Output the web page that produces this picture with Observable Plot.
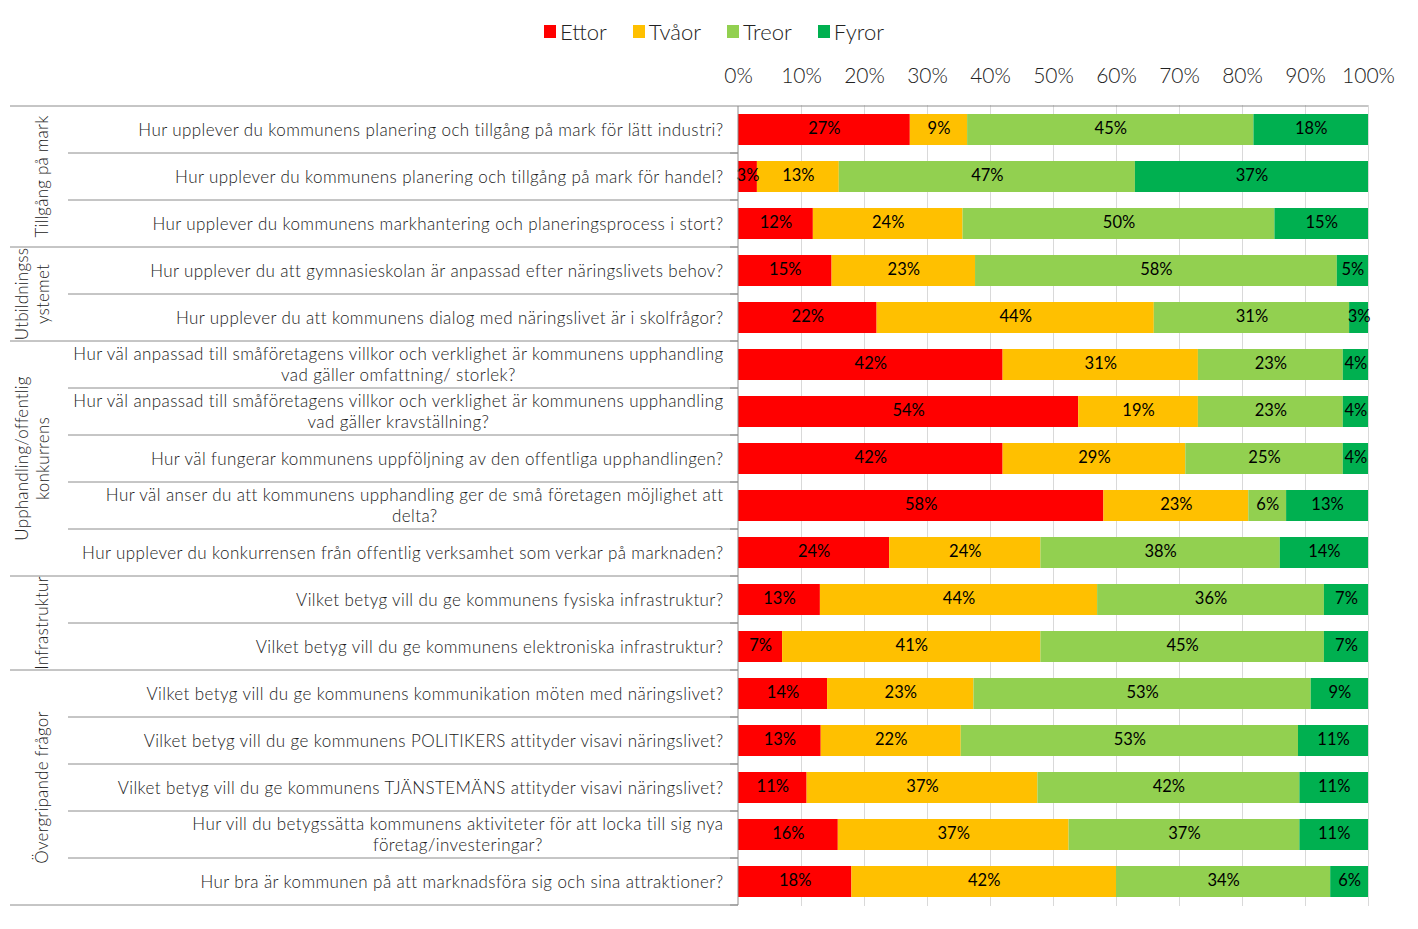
<!DOCTYPE html>
<html>
<head>
<meta charset="utf-8">
<script src="https://cdn.jsdelivr.net/npm/d3@7"></script>
<script src="https://cdn.jsdelivr.net/npm/@observablehq/plot@0.6"></script>
<style>
  html, body { margin: 0; padding: 0; background: #fff; }
  body { width: 1418px; height: 929px; overflow: hidden; font-family: Lato, "Open Sans", sans-serif; }
  #legend { height: 50px; display: flex; justify-content: center; align-items: center; gap: 26px; padding-left: 10px; box-sizing: border-box; padding-top: 12px; }
  #legend .item { display: flex; align-items: center; font-size: 22px; font-weight: 300; color: #222; }
  #legend .sw { width: 12px; height: 13px; margin-right: 4px; }
  .qlabel text { letter-spacing: 0.4px; }
</style>
</head>
<body>
<div id="legend"></div>
<div id="chart"></div>
<script>
const categories = ["Ettor", "Tvåor", "Treor", "Fyror"];
const colors = ["#FF0000", "#FFC000", "#92D050", "#00B050"];

const groups = [
  "Tillgång på mark",
  "Utbildningss\nystemet",
  "Upphandling/offentlig\nkonkurrens",
  "Infrastruktur",
  "Övergripande frågor"
];
const groupOfRow = [0, 0, 0, 1, 1, 2, 2, 2, 2, 2, 3, 3, 4, 4, 4, 4, 4];

const questions = [
  "Hur upplever du kommunens planering och tillgång på mark för lätt industri?",
  "Hur upplever du kommunens planering och tillgång på mark för handel?",
  "Hur upplever du kommunens markhantering och planeringsprocess i stort?",
  "Hur upplever du att gymnasieskolan är anpassad efter näringslivets behov?",
  "Hur upplever du att kommunens dialog med näringslivet är i skolfrågor?",
  "Hur väl anpassad till småföretagens villkor och verklighet är kommunens upphandling\nvad gäller omfattning/ storlek?",
  "Hur väl anpassad till småföretagens villkor och verklighet är kommunens upphandling\nvad gäller kravställning?",
  "Hur väl fungerar kommunens uppföljning av den offentliga upphandlingen?",
  "Hur väl anser du att kommunens upphandling ger de små företagen möjlighet att\ndelta?",
  "Hur upplever du konkurrensen från offentlig verksamhet som verkar på marknaden?",
  "Vilket betyg vill du ge kommunens fysiska infrastruktur?",
  "Vilket betyg vill du ge kommunens elektroniska infrastruktur?",
  "Vilket betyg vill du ge kommunens kommunikation möten med näringslivet?",
  "Vilket betyg vill du ge kommunens POLITIKERS attityder visavi näringslivet?",
  "Vilket betyg vill du ge kommunens TJÄNSTEMÄNS attityder visavi näringslivet?",
  "Hur vill du betygssätta kommunens aktiviteter för att locka till sig nya\nföretag/investeringar?",
  "Hur bra är kommunen på att marknadsföra sig och sina attraktioner?"
];

const ettor = [27, 3, 12, 15, 22, 42, 54, 42, 58, 24, 13, 7, 14, 13, 11, 16, 18];
const tvaor = [9, 13, 24, 23, 44, 31, 19, 29, 23, 24, 44, 41, 23, 22, 37, 37, 42];
const treor = [45, 47, 50, 58, 31, 23, 23, 25, 6, 38, 36, 45, 53, 53, 42, 37, 34];
const fyror = [18, 37, 15, 5, 3, 4, 4, 4, 13, 14, 7, 7, 9, 11, 11, 11, 6];

const xTicks = [0, 0.1, 0.2, 0.3, 0.4, 0.5, 0.6, 0.7, 0.8, 0.9, 1];

// Build tidy table
const series = [ettor, tvaor, treor, fyror];
const rows = [];
questions.forEach((q, i) => {
  categories.forEach((c, j) => {
    rows.push({question: q, category: c, value: series[j][i]});
  });
});

// Legend
const legend = document.getElementById("legend");
categories.forEach((c, j) => {
  const it = document.createElement("div");
  it.className = "item";
  const sw = document.createElement("span");
  sw.className = "sw";
  sw.style.background = colors[j];
  it.appendChild(sw);
  it.appendChild(document.createTextNode(c));
  legend.appendChild(it);
});

const FONT = "Lato, 'Open Sans', sans-serif";

function decor(index, scales, values, dims) {
  const y = scales.y, x = scales.x;
  const bw = typeof y.bandwidth === "function" ? y.bandwidth() : y.bandwidth;
  const step = typeof y.step === "function" ? y.step() : y.step;
  const gap = (step - bw) / 2;
  const top = q => y(q) - gap;
  const bot = q => y(q) + bw + gap;
  const x0 = dims.marginLeft;
  const xEnd = x(1);
  const leftEdge = 10, rowLineStart = 68;
  const g = d3.create("svg:g");
  const lc = "#8c8c8c";
  // top line
  g.append("line").attr("x1", leftEdge).attr("x2", xEnd)
    .attr("y1", top(questions[0])).attr("y2", top(questions[0]))
    .attr("stroke", lc);
  // row boundaries
  questions.forEach((q, i) => {
    const yb = bot(q);
    const isGroupEnd = i === questions.length - 1 || groupOfRow[i + 1] !== groupOfRow[i];
    g.append("line").attr("x1", isGroupEnd ? leftEdge : rowLineStart).attr("x2", x0)
      .attr("y1", yb).attr("y2", yb).attr("stroke", lc);
    g.append("line").attr("x1", x0 - 8).attr("x2", x0)
      .attr("y1", yb).attr("y2", yb).attr("stroke", lc);
  });
  // axis line
  g.append("line").attr("x1", x0).attr("x2", x0)
    .attr("y1", top(questions[0])).attr("y2", bot(questions[questions.length - 1]))
    .attr("stroke", lc);
  // group labels
  groups.forEach((name, gi) => {
    const qs = questions.filter((q, i) => groupOfRow[i] === gi);
    const cy = (top(qs[0]) + bot(qs[qs.length - 1])) / 2;
    const lines = name.split("\n");
    const cx = lines.length > 1 ? 33 : 42;
    const t = g.append("text")
      .attr("transform", `translate(${cx},${cy}) rotate(-90)`)
      .attr("text-anchor", "middle")
      .attr("font-family", FONT)
      .attr("font-size", 17)
      .attr("font-weight", 300)
      .attr("letter-spacing", "0.2px")
      .attr("fill", "#222");
    const lh = 21;
    lines.forEach((ln, k) => {
      t.append("tspan").attr("x", 0)
        .attr("y", (k - (lines.length - 1) / 2) * lh)
        .attr("dy", "0.35em")
        .text(ln);
    });
  });
  return g.node();
}

const plot = Plot.plot({
  width: 1418,
  height: 879,
  marginTop: 55,
  marginBottom: 23,
  marginLeft: 738,
  marginRight: 50,
  style: {fontFamily: FONT, background: "#fff"},
  x: {domain: [0, 1]},
  y: {domain: questions, paddingInner: 0.33, paddingOuter: 0.15, axis: null},
  color: {domain: categories, range: colors},
  marks: [
    Plot.gridX(xTicks.slice(1), {stroke: "#d9d9d9", strokeOpacity: 1}),
    Plot.axisX(xTicks, {anchor: "top", tickSize: 0, tickPadding: 23, tickFormat: d3.format(".0%"), fontSize: 21, fontWeight: 300, fill: "#222", label: null}),
    Plot.barX(rows, Plot.stackX({offset: "normalize", x: "value", y: "question", fill: "category", z: "category", order: categories})),
    Plot.text(rows, Plot.stackX({offset: "normalize", x: "value", y: "question", z: "category", order: categories, text: d => d.value + "%", fill: "#000", fontSize: 16.5, dy: -1})),
    Plot.text(questions, {y: d => d, text: d => d, frameAnchor: "left", dx: -15, dy: -1, textAnchor: "end", fontSize: 17, fontWeight: 300, fill: "#1a1a1a", lineHeight: 1.2, className: "qlabel"}),
    decor
  ]
});

document.getElementById("chart").appendChild(plot);

// Right-align multi-line question labels as blocks, centering lines within the block
d3.select(plot).selectAll("g.qlabel text").each(function() {
  const tspans = this.querySelectorAll("tspan");
  if (tspans.length < 2) return;
  let W = 0;
  tspans.forEach(t => { W = Math.max(W, t.getComputedTextLength()); });
  this.setAttribute("text-anchor", "middle");
  tspans.forEach(t => t.setAttribute("x", -W / 2));
});
</script>
</body>
</html>
